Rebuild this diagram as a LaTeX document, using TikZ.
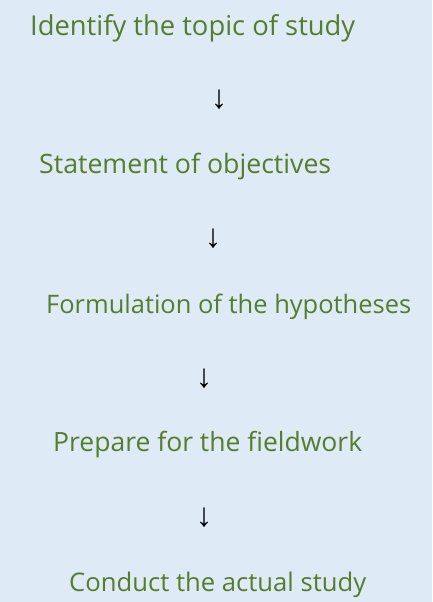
\documentclass[tikz,border=0pt]{standalone}
\usepackage{fontspec}
\setmainfont{Open Sans}
\newfontfamily\arrowfont{Liberation Sans}
\definecolor{bgblue}{HTML}{DEEAF6}
\definecolor{stepgreen}{HTML}{557D2C}
\tikzset{
  steptext/.style={anchor=west, inner sep=0pt, text=stepgreen, font=\fontsize{22}{26}\selectfont},
  downarrow/.style={inner sep=0pt, text=black, font=\arrowfont\fontsize{33}{36}\selectfont}
}
\newcommand{\fitw}[2]{\resizebox{#1pt}{!}{#2}}
\begin{document}
\begin{tikzpicture}[x=1pt,y=-1pt]
\fill[bgblue] (0,0) rectangle (432,602);
\useasboundingbox (0,0) rectangle (432,602);
\node[steptext] (s1) at (30,28) {\fitw{325}{Identify the topic of study}};
\node[downarrow] (a1) at (219,100) {↓};
\node[steptext] (s2) at (39,166) {\fitw{292}{Statement of objectives}};
\node[downarrow] (a2) at (213,239) {↓};
\node[steptext] (s3) at (46,307) {\fitw{365}{Formulation of the hypotheses}};
\node[downarrow] (a3) at (204,379) {↓};
\node[steptext] (s4) at (53,445) {\fitw{309}{Prepare for the fieldwork}};
\node[downarrow] (a4) at (204,518) {↓};
\node[steptext] (s5) at (69,585) {\fitw{297}{Conduct the actual study}};
\end{tikzpicture}
\end{document}
